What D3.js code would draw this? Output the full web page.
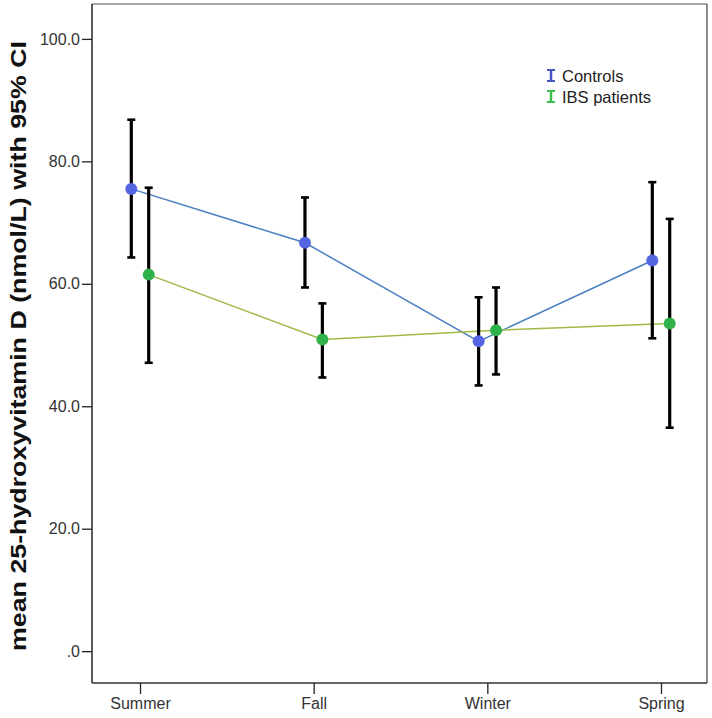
<!DOCTYPE html>
<html><head><meta charset="utf-8">
<script src="https://cdn.jsdelivr.net/npm/d3@7"></script>
<style>body{margin:0;background:#fff}svg{display:block}</style>
</head><body>
<svg id="chart" width="712" height="718"></svg>
<script>
const seasons = ["Summer","Fall","Winter","Spring"];
const groups = ["Controls","IBS patients"];
const controlsMean = [75.5, 66.7, 50.6, 63.8];
const controlsLow  = [64.3, 59.4, 43.4, 51.1];
const controlsHigh = [86.8, 74.1, 57.8, 76.6];
const ibsMean = [61.5, 50.9, 52.4, 53.5];
const ibsLow  = [47.1, 44.7, 45.2, 36.5];
const ibsHigh = [75.7, 56.8, 59.4, 70.6];
const yTicks = [0, 20, 40, 60, 80, 100];
const yTickLabels = [".0","20.0","40.0","60.0","80.0","100.0"];

const series = [
  {name: groups[0], mean: controlsMean, low: controlsLow, high: controlsHigh, dot: "#5566e3", line: "#4a7fc1", icon: "#4455c0"},
  {name: groups[1], mean: ibsMean, low: ibsLow, high: ibsHigh, dot: "#2fb14c", line: "#9dba46", icon: "#3cbf4c"}
];

const FONT = "Liberation Sans, Arial, sans-serif";
const svg = d3.select("#chart");
const L = 92, R = 707, T = 4, B = 683;
const y = d3.scaleLinear().domain([-5.2, 105.7]).range([B, T]);
const x = d3.scalePoint().domain(seasons).range([140, 661]);
const off = d3.scalePoint().domain(groups).range([-8.7, 8.7]);

// frame
svg.append("line").attr("x1", L).attr("x2", R).attr("y1", T).attr("y2", T).attr("stroke", "#8a8a8a").attr("stroke-width", 1.5);
svg.append("line").attr("x1", R).attr("x2", R).attr("y1", T).attr("y2", B).attr("stroke", "#666").attr("stroke-width", 1.5);

// axes
const yAxis = d3.axisLeft(y).tickValues(yTicks).tickFormat((d,i) => yTickLabels[i]).tickSize(10).tickPadding(2);
const gy = svg.append("g").attr("transform", `translate(${L},0)`).call(yAxis);
gy.select(".domain").attr("d", `M0,${T}V${B}`).attr("stroke", "#222").attr("stroke-width", 1.5);
gy.selectAll(".tick line").attr("stroke", "#222").attr("stroke-width", 1.3);
gy.selectAll("text").attr("font-family", FONT).attr("font-size", 16).attr("fill", "#333");

const xAxis = d3.axisBottom(x).tickSize(11).tickPadding(4);
const gx = svg.append("g").attr("transform", `translate(0,${B})`).call(xAxis);
gx.select(".domain").attr("d", `M${L},0H${R}`).attr("stroke", "#333").attr("stroke-width", 1.5);
gx.selectAll(".tick line").attr("stroke", "#222").attr("stroke-width", 1.3);
gx.selectAll("text").attr("font-family", FONT).attr("font-size", 16).attr("fill", "#333");

// y label
svg.append("text")
  .attr("transform", `translate(26,${(40+652)/2}) rotate(-90)`)
  .attr("text-anchor", "middle")
  .attr("font-family", FONT)
  .attr("font-weight", "bold").attr("font-size", 22).attr("fill", "#111")
  .attr("textLength", 610).attr("lengthAdjust", "spacingAndGlyphs")
  .text("mean 25-hydroxyvitamin D (nmol/L) with 95% CI");

// lines
series.forEach(s => {
  const line = d3.line().x((d,i) => x(seasons[i]) + off(s.name)).y(d => y(d));
  svg.append("path").attr("d", line(s.mean)).attr("fill", "none").attr("stroke", s.line).attr("stroke-width", 1.5);
});

// error bars
series.forEach(s => {
  const g = svg.append("g");
  seasons.forEach((c, i) => {
    const cx = x(c) + off(s.name);
    g.append("line").attr("x1", cx).attr("x2", cx).attr("y1", y(s.low[i])).attr("y2", y(s.high[i])).attr("stroke", "#000").attr("stroke-width", 3.2);
    [s.low[i], s.high[i]].forEach(v => {
      g.append("line").attr("x1", cx - 4).attr("x2", cx + 4).attr("y1", y(v)).attr("y2", y(v)).attr("stroke", "#000").attr("stroke-width", 2.6);
    });
  });
});

// points
series.forEach(s => {
  svg.append("g").selectAll("circle").data(s.mean).join("circle")
    .attr("cx", (d,i) => x(seasons[i]) + off(s.name)).attr("cy", d => y(d))
    .attr("r", 6).attr("fill", s.dot);
});

// legend
const lg = svg.append("g").attr("font-family", FONT).attr("font-size", 16.5).attr("fill", "#222");
series.forEach((s, i) => {
  const ly = 76 + i * 21;
  const ix = 551;
  lg.append("line").attr("x1", ix).attr("x2", ix).attr("y1", ly - 6).attr("y2", ly + 5).attr("stroke", s.icon).attr("stroke-width", 2.5);
  lg.append("line").attr("x1", ix - 4).attr("x2", ix + 4).attr("y1", ly - 6).attr("y2", ly - 6).attr("stroke", s.icon).attr("stroke-width", 2);
  lg.append("line").attr("x1", ix - 4).attr("x2", ix + 4).attr("y1", ly + 5).attr("y2", ly + 5).attr("stroke", s.icon).attr("stroke-width", 2);
  lg.append("text").attr("x", 562).attr("y", ly + 6).text(s.name);
});
</script>
</body></html>
